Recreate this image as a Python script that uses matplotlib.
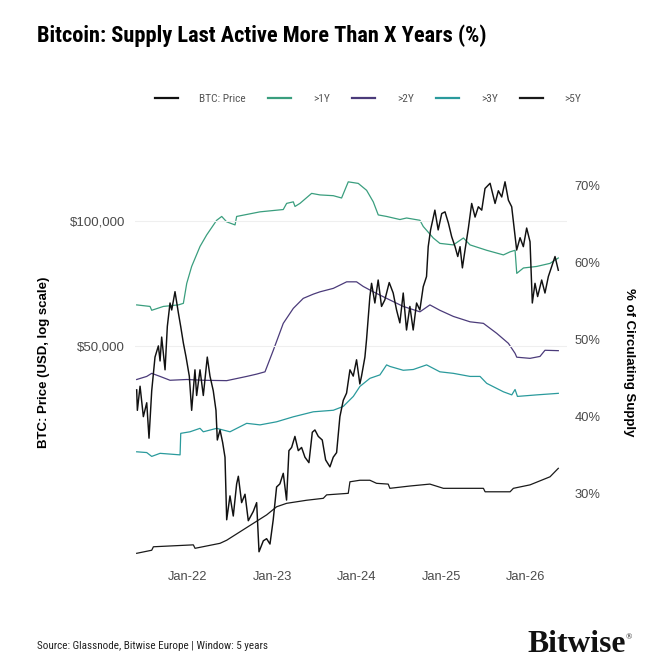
import matplotlib
matplotlib.use("Agg")
import matplotlib.pyplot as plt
import matplotlib.dates as mdates
import matplotlib.ticker as mticker
from matplotlib import font_manager as fm
import pandas as pd

# --- data (dates as decimal years) ---
price_t = [2021.394, 2021.402, 2021.434, 2021.473, 2021.513, 2021.540, 2021.572, 2021.611,
           2021.651, 2021.671, 2021.690, 2021.730, 2021.757, 2021.789, 2021.809, 2021.848,
           2021.888, 2021.916, 2021.947, 2021.979, 2022.018, 2022.046, 2022.085, 2022.105,
           2022.145, 2022.184, 2022.231, 2022.263, 2022.302, 2022.334, 2022.350, 2022.382,
           2022.413, 2022.441, 2022.461, 2022.500, 2022.539, 2022.579, 2022.599, 2022.638,
           2022.678, 2022.717, 2022.776, 2022.816, 2022.844, 2022.895, 2022.934, 2022.974,
           2023.013, 2023.053, 2023.092, 2023.132, 2023.171, 2023.199, 2023.231, 2023.270,
           2023.310, 2023.349, 2023.389, 2023.436, 2023.476, 2023.507, 2023.547, 2023.594,
           2023.634, 2023.685, 2023.724, 2023.764, 2023.803, 2023.843, 2023.882, 2023.922,
           2023.961, 2024.001, 2024.040, 2024.060, 2024.100, 2024.119, 2024.159, 2024.179,
           2024.218, 2024.257, 2024.297, 2024.336, 2024.388, 2024.435, 2024.475, 2024.514,
           2024.554, 2024.593, 2024.633, 2024.672, 2024.712, 2024.751, 2024.791, 2024.830,
           2024.850, 2024.878, 2024.929, 2024.968, 2025.008, 2025.047, 2025.087, 2025.126,
           2025.166, 2025.198, 2025.225, 2025.253, 2025.284, 2025.324, 2025.363, 2025.403,
           2025.442, 2025.482, 2025.521, 2025.581, 2025.640, 2025.679, 2025.719, 2025.758,
           2025.798, 2025.837, 2025.877, 2025.896, 2025.936, 2025.975, 2026.015, 2026.055,
           2026.082, 2026.114, 2026.145, 2026.193, 2026.232, 2026.272, 2026.311, 2026.351,
           2026.390]
price_usd = [39200, 35000, 40000, 33800, 36500, 30000, 39000, 47000,
             50000, 46000, 52500, 43800, 55700, 63400, 61000, 67500,
             60000, 55600, 50800, 47000, 42300, 35000, 43800, 38000,
             43800, 38000, 47000, 42300, 39000, 35000, 29700, 31400,
             29300, 27000, 19100, 21800, 19500, 23300, 24300, 21000,
             22000, 19000, 20000, 21000, 16000, 17000, 17200, 16700,
             19100, 22900, 23300, 24700, 21300, 28000, 28500, 30300,
             28000, 28500, 27000, 26200, 31000, 31400, 30300, 29700,
             26600, 25600, 27000, 27700, 33800, 37000, 38500, 43800,
             42300, 46300, 40500, 42300, 47000, 51700, 65700, 70700,
             63400, 72000, 62200, 64500, 71000, 67000, 61000, 56800,
             67000, 54600, 62200, 54600, 63400, 61000, 69400, 73400,
             86600, 95000, 106000, 95000, 104000, 105000, 98700, 91500,
             86600, 82000, 86600, 77000, 85000, 96000, 110000, 102000,
             108000, 106000, 119500, 123000, 110000, 118000, 114000, 124000,
             112000, 108000, 91500, 85000, 91000, 86600, 96000, 89000,
             63400, 70700, 65700, 72000, 67000, 73400, 77500, 82000,
             76000]

y1_t = [2021.394, 2021.552, 2021.572, 2021.710, 2021.888, 2021.947, 2021.987, 2022.046,
        2022.145, 2022.224, 2022.342, 2022.402, 2022.461, 2022.560, 2022.579, 2022.856,
        2023.132, 2023.172, 2023.251, 2023.271, 2023.330, 2023.468, 2023.567, 2023.725,
        2023.823, 2023.902, 2024.021, 2024.120, 2024.199, 2024.258, 2024.357, 2024.515,
        2024.594, 2024.752, 2024.791, 2024.910, 2024.988, 2025.146, 2025.265, 2025.344,
        2025.541, 2025.739, 2025.818, 2025.877, 2025.897, 2025.976, 2026.134, 2026.292,
        2026.390]
y1_pct = [54.5, 54.3, 53.8, 54.3, 54.5, 54.7, 57.3, 59.5,
          62.1, 63.6, 65.5, 66.0, 65.3, 64.9, 66.0, 66.6,
          66.9, 67.7, 67.9, 67.3, 67.7, 69.0, 68.8, 68.7,
          68.4, 70.5, 70.3, 69.4, 67.9, 66.2, 66.0, 65.6,
          65.8, 65.5, 64.7, 63.2, 62.5, 62.3, 63.2, 62.3,
          61.6, 61.0, 61.4, 61.6, 58.6, 59.3, 59.5, 59.9,
          60.6]

y2_t = [2021.394, 2021.513, 2021.572, 2021.671, 2021.789, 2021.987, 2022.184, 2022.461,
        2022.698, 2022.816, 2022.915, 2023.014, 2023.132, 2023.251, 2023.369, 2023.488,
        2023.567, 2023.725, 2023.883, 2024.001, 2024.080, 2024.199, 2024.357, 2024.554,
        2024.752, 2024.870, 2024.988, 2025.146, 2025.344, 2025.502, 2025.660, 2025.798,
        2025.877, 2025.897, 2026.055, 2026.173, 2026.232, 2026.390]
y2_pct = [44.8, 45.2, 45.6, 45.2, 44.7, 44.8, 44.7, 44.65,
          45.2, 45.5, 45.8, 48.6, 52.1, 54.05, 55.35, 55.9,
          56.2, 56.65, 57.5, 57.5, 56.9, 56.2, 55.35, 54.3,
          53.6, 54.5, 53.8, 53.0, 52.3, 52.1, 50.8, 49.5,
          48.2, 47.7, 47.55, 47.8, 48.6, 48.55]

y3_t = [2021.394, 2021.513, 2021.572, 2021.671, 2021.908, 2021.916, 2022.026, 2022.145,
        2022.184, 2022.342, 2022.500, 2022.698, 2022.856, 2023.053, 2023.251, 2023.488,
        2023.725, 2023.843, 2023.962, 2024.041, 2024.159, 2024.278, 2024.357, 2024.396,
        2024.554, 2024.673, 2024.831, 2024.988, 2025.146, 2025.344, 2025.462, 2025.541,
        2025.739, 2025.838, 2025.877, 2025.905, 2026.134, 2026.390]
y3_pct = [35.4, 35.3, 34.8, 35.2, 35.0, 37.8, 38.0, 38.45,
          38.0, 38.45, 38.0, 39.1, 38.9, 39.3, 39.95, 40.6,
          40.8, 41.3, 42.6, 43.9, 44.95, 45.4, 46.7, 46.5,
          46.0, 46.1, 46.7, 45.8, 45.6, 45.2, 45.2, 44.3,
          43.2, 42.8, 43.5, 42.6, 42.8, 43.0]

y5_t = [2021.394, 2021.572, 2021.592, 2022.066, 2022.086, 2022.382, 2022.461, 2022.619,
        2022.777, 2022.935, 2023.053, 2023.172, 2023.409, 2023.606, 2023.646, 2023.902,
        2023.922, 2024.041, 2024.159, 2024.238, 2024.376, 2024.396, 2024.633, 2024.870,
        2025.028, 2025.304, 2025.502, 2025.522, 2025.818, 2025.857, 2026.055, 2026.292,
        2026.390]
y5_pct = [22.2, 22.6, 23.05, 23.3, 22.85, 23.5, 23.9, 25.0,
          26.1, 27.2, 28.25, 28.7, 29.1, 29.35, 29.8, 30.0,
          31.5, 31.7, 31.7, 31.3, 31.2, 30.65, 30.95, 31.2,
          30.65, 30.65, 30.65, 30.2, 30.2, 30.65, 31.1, 32.15,
          33.25]

labels = ["BTC: Price", ">1Y", ">2Y", ">3Y", ">5Y"]
colors = ["#111111", "#3a9e7e", "#4b3b7a", "#2a9a9c", "#1a1a1a"]
price_ticks = [50000, 100000]
pct_ticks = [30, 40, 50, 60, 70]
x_years = [2022, 2023, 2024, 2025, 2026]


def to_dt(years):
    return [pd.Timestamp(int(y), 1, 1) + pd.Timedelta(days=(y - int(y)) * 365.25)
            for y in years]


def pick(*names):
    for n in names:
        try:
            fm.findfont(fm.FontProperties(family=n), fallback_to_default=False)
            return n
        except ValueError:
            pass
    return "DejaVu Sans"


NARROW = pick("Liberation Sans Narrow", "Roboto Condensed", "Liberation Sans")
SANS = pick("Liberation Sans", "Roboto", "DejaVu Sans")
SERIF = pick("Liberation Serif", "DejaVu Serif")
plt.rcParams["font.family"] = SANS

W = H = 671
fig = plt.figure(figsize=(W / 100, H / 100), dpi=100)
# axes box in pixels: x 135..567, y 170..565
ax = fig.add_axes([135 / W, 1 - 565 / H, 432 / W, 395 / H])
ax2 = ax.twinx()

ax.set_yscale("log")
ax.set_ylim(14870, 132370)
ax2.set_ylim(20.68, 72.04)
ax.set_xlim(to_dt([2021.374, 2026.493]))

ax2.plot(to_dt(y1_t), y1_pct, color=colors[1], lw=0.9)
ax2.plot(to_dt(y2_t), y2_pct, color=colors[2], lw=0.9)
ax2.plot(to_dt(y3_t), y3_pct, color=colors[3], lw=0.9)
ax2.plot(to_dt(y5_t), y5_pct, color=colors[4], lw=0.9)
ax.plot(to_dt(price_t), price_usd, color=colors[0], lw=1.05)

# price on top of supply lines
ax.set_zorder(ax2.get_zorder() + 1)
ax.patch.set_visible(False)

for a in (ax, ax2):
    for s in a.spines.values():
        s.set_visible(False)

ax.yaxis.set_major_locator(mticker.FixedLocator(price_ticks))
ax.yaxis.set_minor_locator(mticker.NullLocator())
ax.yaxis.set_major_formatter(mticker.FuncFormatter(lambda v, _: f"${v:,.0f}"))
ax.grid(axis="y", color="#efefef", lw=0.8)
ax.tick_params(axis="y", length=0, pad=7.2, labelsize=9.5, labelcolor="#4a4a4a")

ax2.yaxis.set_major_locator(mticker.FixedLocator(pct_ticks))
ax2.yaxis.set_major_formatter(mticker.FuncFormatter(lambda v, _: f"{v:.0f}%"))
ax2.tick_params(axis="y", length=0, pad=5.3, labelsize=9.3, labelcolor="#4a4a4a")

ax.xaxis.set_major_locator(mticker.FixedLocator(mdates.date2num(to_dt(x_years))))
ax.xaxis.set_major_formatter(mdates.DateFormatter("%b-%y"))
ax.tick_params(axis="x", length=0, pad=4, labelsize=9.3, labelcolor="#4a4a4a")

fig.text(44 / W, 1 - 362 / H, "BTC: Price (USD, log scale)", rotation=90,
         ha="center", va="center", fontsize=9.5, fontweight="bold")
fig.text(629 / W, 1 - 362 / H, "% of Circulating Supply", rotation=270,
         ha="center", va="center", fontsize=9.5, fontweight="bold")

fig.text(37 / W, 1 - 42 / H, "Bitcoin: Supply Last Active More Than X Years (%)",
         ha="left", va="baseline", fontsize=16.1, fontweight="bold", family=NARROW)

handles = [plt.Line2D([], [], color=c, lw=1.6) for c in colors]
fig.legend(handles, labels, loc="center", bbox_to_anchor=(368 / W, 1 - 99.3 / H),
           ncol=5, frameon=False, prop={"family": NARROW, "size": 8.2},
           labelcolor="#555555", handlelength=2.05, handletextpad=1.9,
           columnspacing=1.93)

fig.text(37 / W, 1 - 649 / H, "Source: Glassnode, Bitwise Europe | Window: 5 years",
         ha="left", va="baseline", fontsize=8.0, family=NARROW, color="#222222")
fig.text(527 / W, 1 - 652 / H, "Bitwise", ha="left", va="baseline",
         fontsize=22.7, fontweight="bold", family=SERIF, color="#111111")
fig.text(626 / W, 1 - 639 / H, "®", ha="left", va="baseline", fontsize=6,
         family=SERIF, color="#111111")

fig.savefig("out.png", dpi=100)
